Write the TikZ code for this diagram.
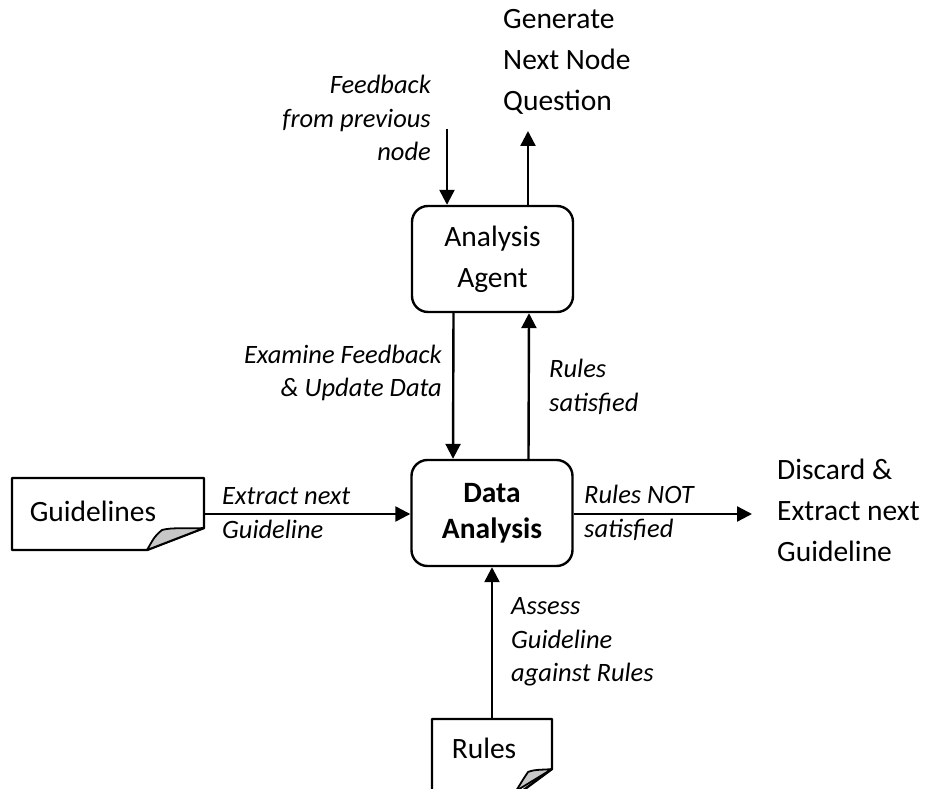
\documentclass[tikz,border=0pt]{standalone}
\usepackage{fontspec}
\setmainfont{Carlito}
\usetikzlibrary{arrows.meta}
\begin{document}
\begin{tikzpicture}[x=1pt,y=-1pt,
  line width=2.4pt,
  arr/.style={-{Triangle[length=15pt,width=15pt]}},
  box/.style={draw,rounded corners=16pt,minimum width=161pt,minimum height=106pt,inner sep=0pt},
  big/.style={font=\fontsize{29.5}{41}\selectfont,align=left,inner sep=0pt},
  lab/.style={font=\fontsize{26.5}{33.5}\selectfont\itshape,inner sep=0pt},
  docframe/.style={draw=none,inner sep=0pt,minimum width=#1},
  flap/.style={draw,fill=black!22,line width=1.8pt,line join=round},
]
\useasboundingbox (0,0) rectangle (938,789);
% boxes
\node[box,big,align=center] (aa) at (492.5,259) {Analysis\\Agent};
\node[box,big,align=center,font=\fontsize{29.5}{36}\selectfont\bfseries] (da) at (492,513) {Data\\Analysis};
% guidelines document
\node[docframe=192pt,minimum height=72pt] (gldoc) at (108,514) {};
\draw[line join=round] (12,478) -- (204,478) -- (204,528) -- (147,550) -- (12,550) -- cycle;
\draw[flap] (204,528) .. controls (190,529) and (172,527) .. (162,530) .. controls (155,536) .. (147,550) -- cycle;
\node[big] (gltext) at (93,511) {Guidelines};
% rules document
\node[docframe=120pt,minimum height=82pt] (rdoc) at (492,760) {};
\begin{scope}
\clip (0,0) rectangle (938,789);
\draw[line join=round] (432,805) -- (432,719) -- (552,719) -- (552,769) -- (510,800);
\draw[flap] (552,769) .. controls (545,770) and (535,769) .. (528,772) .. controls (524,778) .. (516,791) -- cycle;
\end{scope}
\node[big] (rtext) at (484,748) {Rules};
% coordinates for free ends
\coordinate (fbtop) at (447,129);
\coordinate (gentip) at (528,131);
\coordinate (disc) at (752,514);
% connectors
\draw[arr] (fbtop) -- (fbtop |- aa.north);
\draw[arr] (gentip |- aa.north) -- (gentip);
\draw[arr] ([xshift=-39pt]aa.south) -- ([xshift=-39pt]da.north);
\draw[arr] ([xshift=36.5pt]da.north) -- ([xshift=36.5pt]aa.south);
\draw[arr] (gldoc.east) -- (gldoc.east -| da.west);
\draw[arr] (da.east |- disc) -- (disc);
\draw[arr] (rdoc.north) -- (da.south);
% labels
\node[big,anchor=west] (gen) at (502,62) {Generate\\Next Node\\Question};
\node[lab,anchor=east,align=right] (fb) at (432,118) {Feedback\\from previous\\node};
\node[lab,anchor=east,align=right] (ex) at (443,373) {Examine Feedback\\\& Update Data};
\node[lab,anchor=west,align=left] (rs) at (548,387) {Rules\\satisfied};
\node[lab,anchor=west,align=left] (en) at (221,513) {Extract next\\Guideline};
\node[lab,anchor=west,align=left] (rn) at (583,513) {Rules NOT\\satisfied};
\node[big,anchor=west] (dc) at (776,510) {Discard \&\\Extract next\\Guideline};
\node[lab,anchor=west,align=left] (as) at (510,642) {Assess\\Guideline\\against Rules};
\end{tikzpicture}
\end{document}
